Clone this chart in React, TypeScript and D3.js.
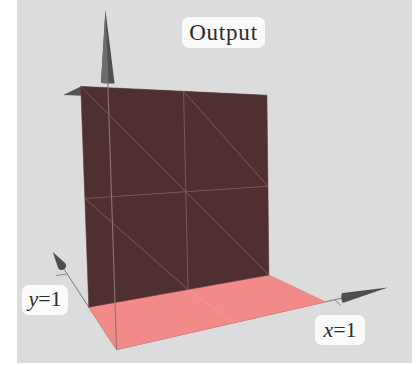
import React from 'react';
import * as d3 from 'd3';

// Perspective camera (3x4 projection matrix, homogeneous) for the 3D view
const CAMERA = [
  [300.756, -5.685, -13.093, 116.545],
  [37.615, 33.788, -278.774, 349.583],
  [0.28261, 0.24811, -0.03776, 1],
];

// Step surface: output is 0 for y < 1 and 1 for y >= 1, over x in [0,1], y in [0,2]
const xRange = [0, 1];
const yRange = [0, 2];
const stepY = 1;
const outputLevels = [0, 1];
const meshDivisions = 2;

// Axes: where each arrow's cone starts and ends (x, y, z)
const coneBase = [1.111, 2.595, 0.967];
const coneTip = [1.42, 3.396, 1.22];
const tickAt = [1.058, 2.21];

const titleText = 'Output';
const xLabel = ['x', '=1'];
const yLabel = ['y', '=1'];

type P3 = [number, number, number];

function project([x, y, z]: P3): [number, number] {
  const [r0, r1, r2] = CAMERA;
  const w = r2[0] * x + r2[1] * y + r2[2] * z + r2[3];
  return [
    (r0[0] * x + r0[1] * y + r0[2] * z + r0[3]) / w,
    (r1[0] * x + r1[1] * y + r1[2] * z + r1[3]) / w,
  ];
}

const line = d3.line();
const poly = (pts: P3[]) => line(pts.map(project)) + 'Z';
const seg = (a: P3, b: P3) => line([project(a), project(b)]) as string;

const CONE_R = 0.024;

function cone(axis: number, base: number, tip: number) {
  const circle: [number, number][] = [];
  const left: [number, number][] = [];
  for (let i = 0; i < 48; i++) {
    const t = (i / 48) * Math.PI * 2;
    const p: P3 = [0, 0, 0];
    p[axis] = base;
    const a = (axis + 1) % 3;
    const b = (axis + 2) % 3;
    p[a] = CONE_R * Math.cos(t);
    p[b] = CONE_R * Math.sin(t);
    const q = project(p);
    circle.push(q);
    if (p[0] <= 1e-9 && axis === 2) left.push(q);
  }
  const tp: P3 = [0, 0, 0];
  tp[axis] = tip;
  const tq = project(tp);
  const hull = d3.polygonHull([...circle, tq]) as [number, number][];
  const lhull = left.length ? (d3.polygonHull([...left, tq]) as [number, number][]) : null;
  return { hull: line(hull) + 'Z', left: lhull ? line(lhull) + 'Z' : null };
}

export default function App() {
  const [x0, x1] = xRange;
  const [y0, y1] = yRange;
  const [zLo, zHi] = outputLevels;

  const floor: P3[] = [[x0, y0, zLo], [x1, y0, zLo], [x1, stepY, zLo], [x0, stepY, zLo]];
  const wall: P3[] = [[x0, stepY, zLo], [x1, stepY, zLo], [x1, stepY, zHi], [x0, stepY, zHi]];
  const plateau: P3[] = [[x0, stepY, zHi], [x1, stepY, zHi], [x1, y1, zHi], [x0, y1, zHi]];

  // triangulated mesh on the riser
  const wallMesh: string[] = [];
  const n = meshDivisions;
  for (let i = 1; i < n; i++) {
    const x = x0 + ((x1 - x0) * i) / n;
    const z = zLo + ((zHi - zLo) * i) / n;
    wallMesh.push(seg([x, stepY, zLo], [x, stepY, zHi]));
    wallMesh.push(seg([x0, stepY, z], [x1, stepY, z]));
  }
  for (let i = 0; i < n; i++) {
    for (let j = 0; j < n; j++) {
      const xa = x0 + ((x1 - x0) * i) / n;
      const xb = x0 + ((x1 - x0) * (i + 1)) / n;
      const za = zLo + ((zHi - zLo) * j) / n;
      const zb = zLo + ((zHi - zLo) * (j + 1)) / n;
      wallMesh.push(seg([xa, stepY, zb], [xb, stepY, za]));
    }
  }
  const floorMesh: string[] = [];
  for (let i = 1; i < n; i++) {
    const x = x0 + ((x1 - x0) * i) / n;
    floorMesh.push(seg([x, y0, zLo], [x, stepY, zLo]));
  }

  const cones = [0, 1, 2].map((k) => cone(k, coneBase[k], coneTip[k]));

  return (
    <svg width={417} height={365} style={{ position: 'absolute', left: 0, top: 0 }}>
      <rect x={17} y={0} width={395} height={363} fill="#dcdcdc" />

      {/* axis shafts in the floor plane */}
      <path d={seg([0, 0, 0], [coneBase[0], 0, 0])} stroke="#7a7a7a" strokeWidth={1} />
      <path d={seg([0, 0, 0], [0, coneBase[1], 0])} stroke="#7a7a7a" strokeWidth={1} />
      <path d={seg([tickAt[0], 0, 0], [tickAt[0] + 0.02, -0.04, -0.025])} stroke="#8a8a8a" strokeWidth={1} />
      <path d={seg([-0.06, tickAt[1], 0], [0, tickAt[1], 0])} stroke="#8a8a8a" strokeWidth={1} />

      <path d={poly(floor)} fill="#f28b88" stroke="#e98381" strokeWidth={0.8} />
      {floorMesh.map((d, i) => (
        <path key={'f' + i} d={d} stroke="#f7a3a0" strokeWidth={1} opacity={0.6} />
      ))}

      <path d={poly(plateau)} fill="#5b5656" />
      <path d={poly(wall)} fill="#4f2f30" stroke="#5a3a3a" strokeWidth={0.6} />
      {wallMesh.map((d, i) => (
        <path key={'w' + i} d={d} stroke="#7c5858" strokeWidth={1} />
      ))}

      {/* vertical (output) axis */}
      <path d={seg([0, 0, 0], [0, 0, coneBase[2]])} stroke="#8e7474" strokeWidth={1.1} />

      {cones.map((c, i) => (
        <g key={'c' + i}>
          <path d={c.hull} fill="#4f4f4f" />
          {c.left && <path d={c.left} fill="#6c6c6c" />}
        </g>
      ))}

      <g fontFamily="'Liberation Serif', 'DejaVu Serif', serif" fill="#2b2b2b">
        <rect x={182} y={17} width={83} height={31} rx={7} fill="#fbfbfb" />
        <text x={223.5} y={39.5} fontSize={23} textAnchor="middle" letterSpacing={0.8}>
          {titleText}
        </text>

        <rect x={22} y={285} width={46} height={30} rx={7} fill="#fbfbfb" />
        <text x={45} y={306} fontSize={22} textAnchor="middle">
          <tspan fontStyle="italic">{yLabel[0]}</tspan>
          {yLabel[1]}
        </text>

        <rect x={315} y={315} width={50} height={30} rx={7} fill="#fbfbfb" />
        <text x={340} y={337} fontSize={22} textAnchor="middle">
          <tspan fontStyle="italic">{xLabel[0]}</tspan>
          {xLabel[1]}
        </text>
      </g>
    </svg>
  );
}
